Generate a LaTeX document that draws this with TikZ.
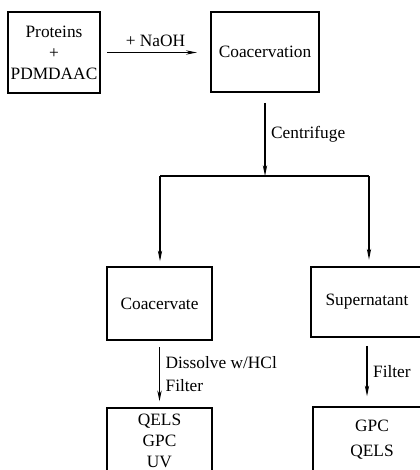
\documentclass[tikz,border=0pt]{standalone}
\usepackage{fontspec}
\setmainfont{Liberation Serif}
\usetikzlibrary{arrows.meta}
\begin{document}
\begin{tikzpicture}[x=0.6pt, y=-0.6pt, every node/.style={align=center, font=\fontsize{10.4}{12.6}\selectfont},
  box/.style={draw, line width=0.9pt, inner sep=0pt},
  flow/.style={line width=0.7pt, -{Stealth[length=6.5pt, width=2.6pt]}}]
\useasboundingbox (0,0) rectangle (420,470);
\clip (0,0) rectangle (420,470);
\node (prot) [box, minimum width=55.2pt, minimum height=48.6pt] at (54,52.5) {Proteins\\+\\PDMDAAC};
\node (coac) [box, minimum width=64.8pt, minimum height=48pt] at (265,52) {Coacervation};
\node (coacv) [box, minimum width=63pt, minimum height=43.8pt] at (159.5,303.5) {Coacervate};
\node (super) [box, minimum width=67.2pt, minimum height=42pt] at (367,302) {Supernatant};
\node (res1) [box, minimum width=63pt, minimum height=39.6pt] at (159.5,441) {QELS\\GPC\\UV};
\node (res2) [box, minimum width=70.8pt, minimum height=39pt, font=\fontsize{10.4}{15}\selectfont] at (372,439.5) {GPC\\QELS};

\coordinate (split) at (265,176);
\coordinate (lsplit) at (160,176);
\coordinate (rsplit) at (369,176);

\draw[flow, shorten <=4pt, shorten >=8pt] (prot.east) -- node[above]{+ NaOH} (prot.east -| coac.west);
\draw[flow, shorten <=6pt] (coac) -- node[right]{Centrifuge} (split);
\draw[line width=0.7pt] (lsplit) -- (rsplit);
\draw[flow, shorten >=3pt] (lsplit) -- (lsplit |- coacv.north);
\draw[flow, shorten >=4pt] (rsplit) -- (rsplit |- super.north);
\draw[flow, shorten <=4pt, shorten >=3.6pt] (coacv) -- node[right, align=left, font=\fontsize{10.4}{13.8}\selectfont]{Dissolve w/HCl\\Filter} (res1);
\draw[flow, shorten <=4.8pt, shorten >=6pt] (super.south) -- node[right]{Filter} (super.south |- res2.north);
\end{tikzpicture}
\end{document}
